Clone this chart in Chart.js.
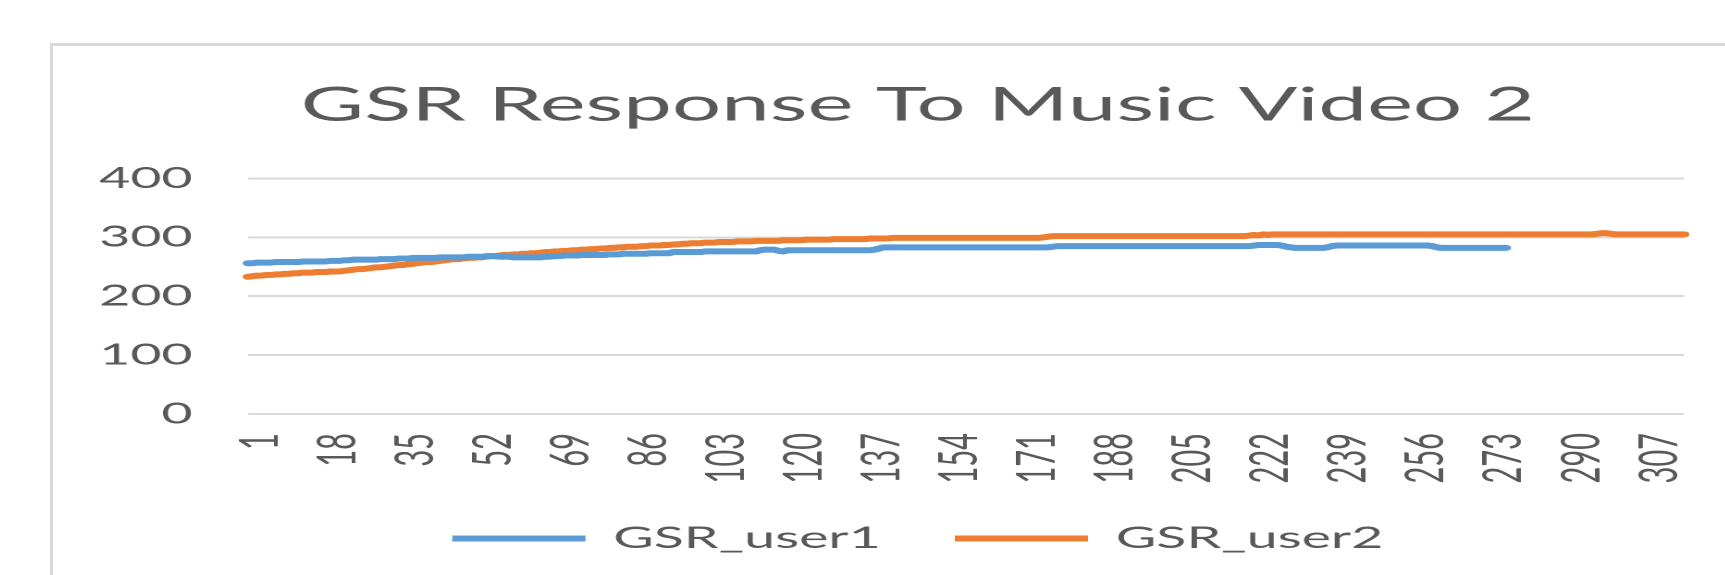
<!DOCTYPE html>
<html>
<head>
<meta charset="utf-8">
<script src="https://cdn.jsdelivr.net/npm/chart.js@4/dist/chart.umd.min.js"></script>
<style>
  html, body { margin: 0; padding: 0; background: #ffffff; overflow: hidden; width: 1725px; height: 575px; }
  #frame { position: absolute; left: 50px; top: 43px; width: 1800px; height: 600px;
           border-left: 3px solid #d9d9d9; border-top: 3px solid #d9d9d9; }
  #wrap { position: absolute; left: 52px; top: 0; transform-origin: 0 0; transform: scaleX(1.85); }
</style>
</head>
<body>
<div id="frame"></div>
<div id="wrap"><canvas id="c" width="936" height="575"></canvas></div>
<script>
const chartTitle = 'GSR Response To Music Video 2';
const seriesNames = ['GSR_user1', 'GSR_user2'];
const tickLabels = ['1','18','35','52','69','86','103','120','137','154','171','188','205','222','239','256','273','290','307'];
const yTicks = [0, 100, 200, 300, 400];

const gsrUser1 = [
256,256,257,257,257,257,258,258,258,258,258,258,259,259,259,259,259,259,260,260,
260,261,261,262,262,262,262,262,262,263,263,263,263,264,264,264,265,265,265,265,
265,265,266,266,266,266,266,266,267,267,267,267,268,268,268,267,267,267,266,266,
266,266,266,266,266,267,267,268,268,269,269,269,269,270,270,270,270,270,270,271,
271,271,272,272,272,272,272,272,273,273,273,273,273,275,275,275,275,275,275,275,
276,276,276,276,276,276,276,276,276,276,276,276,278,279,279,279,277,276,278,278,
278,278,278,278,278,278,278,278,278,278,278,278,278,278,278,278,278,279,281,283,
283,283,283,283,283,283,283,283,283,283,283,283,283,283,283,283,283,283,283,283,
283,283,283,283,283,283,283,283,283,283,283,283,283,283,283,283,284,285,285,285,
285,285,285,285,285,285,285,285,285,285,285,285,285,285,285,285,285,285,285,285,
285,285,285,285,285,285,285,285,285,285,285,285,285,285,285,285,285,285,285,285,
286,287,287,287,287,287,286,284,283,282,282,282,282,282,282,282,283,285,286,286,
286,286,286,286,286,286,286,286,286,286,286,286,286,286,286,286,286,286,286,285,
283,282,282,282,282,282,282,282,282,282,282,282,282,282,282,282
];

const gsrUser2 = [
233,234,235,235,236,236,237,237,238,238,239,239,240,240,240,241,241,241,242,242,
242,243,244,245,246,246,247,248,249,249,250,251,252,253,253,254,255,256,257,258,
258,259,260,261,262,263,263,264,265,265,266,266,267,268,268,269,270,270,271,271,
272,272,273,273,274,275,275,276,276,277,277,278,278,279,279,280,280,281,281,282,
282,283,283,284,284,284,285,285,286,286,286,287,287,288,288,289,289,290,290,290,
291,291,291,292,292,292,292,293,293,293,293,294,294,294,294,294,294,295,295,295,
295,295,296,296,296,296,296,296,297,297,297,297,297,297,297,297,298,298,298,298,
298,299,299,299,299,299,299,299,299,299,299,299,299,299,299,299,299,299,299,299,
299,299,299,299,299,299,299,299,299,299,299,299,299,299,300,301,302,302,302,302,
302,302,302,302,302,302,302,302,302,302,302,302,302,302,302,302,302,302,302,302,
302,302,302,302,302,302,302,302,302,302,302,302,302,302,302,302,302,302,302,303,
304,303,305,304,305,305,305,305,305,305,305,305,305,305,305,305,305,305,305,305,
305,305,305,305,305,305,305,305,305,305,305,305,305,305,305,305,305,305,305,305,
305,305,305,305,305,305,305,305,305,305,305,305,305,305,305,305,305,305,305,305,
305,305,305,305,305,305,305,305,305,305,305,305,305,305,305,306,307,307,306,305,
305,305,305,305,305,305,305,305,305,305,305,305,305,305,305
];

// categories are the sample indices 1..N
const categories = gsrUser2.map((_, i) => String(i + 1));

const FONT = 'Lato, "Open Sans", sans-serif';
const TXT = '#595959';

new Chart(document.getElementById('c'), {
  type: 'line',
  data: {
    labels: categories,
    datasets: [
      { label: seriesNames[0], data: gsrUser1, borderColor: '#5b9bd5', backgroundColor: '#5b9bd5',
        borderWidth: 6, pointRadius: 0, tension: 0, fill: false, borderCapStyle: 'round', borderJoinStyle: 'round' },
      { label: seriesNames[1], data: gsrUser2, borderColor: '#ed7d31', backgroundColor: '#ed7d31',
        borderWidth: 6, pointRadius: 0, tension: 0, fill: false, borderCapStyle: 'round', borderJoinStyle: 'round' }
    ]
  },
  options: {
    responsive: false,
    animation: false,
    devicePixelRatio: 2,
    layout: { padding: { top: 0, left: 0, right: 0, bottom: 11.5 } },
    scales: {
      x: {
        type: 'category',
        offset: false,
        grid: { display: false, drawTicks: false },
        border: { display: false },
        afterFit: (axis) => { axis.height = 69.5; },
        ticks: {
          autoSkip: false, minRotation: 90, maxRotation: 90, padding: 19, labelOffset: 6.5,
          color: TXT, font: { family: FONT, size: 29 },
          callback: function (val, idx) {
            const lab = categories[idx];
            return tickLabels.includes(lab) ? lab : '';
          }
        }
      },
      y: {
        min: yTicks[0], max: yTicks[yTicks.length - 1],
        afterFit: (axis) => { axis.width = 106; },
        afterBuildTicks: (axis) => { axis.ticks = yTicks.map(v => ({ value: v })); },
        grid: { color: '#d9d9d9', lineWidth: 2, drawTicks: false },
        border: { display: false },
        ticks: { color: TXT, font: { family: FONT, size: 29 }, padding: 30 }
      },
      yRight: {
        position: 'right', min: 0, max: 400,
        afterFit: (axis) => { axis.width = 42; },
        grid: { display: false, drawTicks: false },
        border: { display: false },
        ticks: { display: false }
      }
    },
    plugins: {
      tooltip: { enabled: false },
      title: {
        display: true, text: chartTitle, color: TXT,
        font: { family: FONT, size: 47, weight: 'normal', lineHeight: 1.2 },
        padding: { top: 77, bottom: 45 }
      },
      legend: {
        display: true, position: 'bottom',
        labels: {
          boxWidth: 72, boxHeight: 6, padding: 40, color: TXT,
          font: { family: FONT, size: 30 },
          generateLabels: (chart) => Chart.defaults.plugins.legend.labels.generateLabels(chart)
            .map(l => Object.assign(l, { lineWidth: 0 }))
        }
      }
    }
  }
});
</script>
</body>
</html>
